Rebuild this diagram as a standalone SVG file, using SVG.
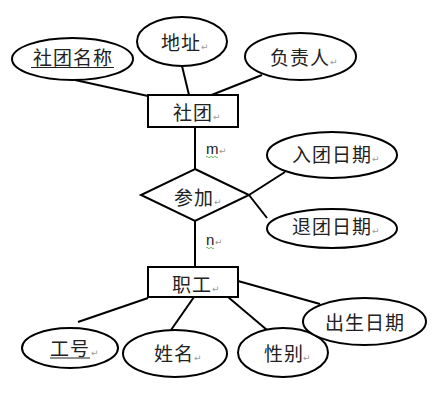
<svg xmlns="http://www.w3.org/2000/svg" width="434" height="400" viewBox="0 0 434 400">
<style>
.s{fill:#fff;stroke:#000;stroke-width:2}
.t{font-family:"Noto Sans CJK SC","Liberation Sans",sans-serif;font-size:19px;fill:#222;text-anchor:middle;letter-spacing:1px}
.p{font-family:"DejaVu Sans",sans-serif;font-size:9px;fill:#999}
.l{stroke:#000;stroke-width:2;fill:none}
.u{stroke:#222;stroke-width:1.2}
.w{stroke:#4a4;stroke-width:0.8;fill:none}
</style>
<rect width="434" height="400" fill="#fff"/>
<g id="connectors">
<line class="l" x1="75" y1="80" x2="148" y2="96"/>
<line class="l" x1="182" y1="66" x2="189" y2="95"/>
<line class="l" x1="262" y1="75" x2="209" y2="96"/>
<line class="l" x1="195" y1="127" x2="195" y2="169"/>
<line class="l" x1="195" y1="221" x2="195" y2="267"/>
<line class="l" x1="249" y1="195" x2="285" y2="172"/>
<line class="l" x1="249" y1="195" x2="267" y2="218"/>
<line class="l" x1="148" y1="298" x2="78" y2="322"/>
<line class="l" x1="194" y1="297" x2="171" y2="330"/>
<line class="l" x1="228" y1="297" x2="267" y2="330"/>
<line class="l" x1="238" y1="281" x2="320" y2="304"/>
</g>
<g id="club_name">
<ellipse class="s" cx="72.5" cy="59" rx="60.5" ry="21"/>
<text class="t" x="73" y="65">社团名称</text>
<line class="u" x1="31" y1="67.5" x2="114" y2="67.5"/>
</g>
<g id="address">
<ellipse class="s" cx="182" cy="41.5" rx="45" ry="24.5"/>
<text class="t" x="181" y="50">地址</text>
<text class="p" x="201" y="50">↵</text>
</g>
<g id="leader">
<ellipse class="s" cx="300.5" cy="56.5" rx="55.5" ry="23.5"/>
<text class="t" x="300" y="65">负责人</text>
<text class="p" x="330" y="65">↵</text>
</g>
<g id="club">
<rect class="s" x="148" y="95" width="90" height="32"/>
<text class="t" x="193" y="120">社团</text>
<text class="p" x="213" y="120">↵</text>
</g>
<g id="m_label">
<text x="206" y="154" style="font-family:'Liberation Sans',sans-serif;font-size:15px;fill:#222">m</text>
<text class="p" x="219" y="154">↵</text>
<path class="w" d="M206,157 q1,-1.5 2,0 t2,0 t2,0 t2,0 t2,0 t2,0"/>
</g>
<g id="join">
<polygon class="s" points="195,169 249,195 195,221 141,195"/>
<text class="t" x="194" y="205">参加</text>
<text class="p" x="214" y="205">↵</text>
</g>
<g id="join_date">
<ellipse class="s" cx="332" cy="155" rx="65" ry="23"/>
<text class="t" x="332" y="162">入团日期</text>
<text class="p" x="372" y="162">↵</text>
</g>
<g id="leave_date">
<ellipse class="s" cx="332" cy="228.5" rx="65" ry="19.5"/>
<text class="t" x="332" y="234">退团日期</text>
<text class="p" x="372" y="234">↵</text>
</g>
<g id="n_label">
<text x="206" y="245" style="font-family:'Liberation Sans',sans-serif;font-size:15px;fill:#222">n</text>
<text class="p" x="215" y="245">↵</text>
<path class="w" d="M206,248 q1,-1.5 2,0 t2,0 t2,0 t2,0"/>
</g>
<g id="staff">
<rect class="s" x="148" y="267" width="90" height="30"/>
<text class="t" x="192" y="292">职工</text>
<text class="p" x="212" y="292">↵</text>
</g>
<g id="staff_no">
<ellipse class="s" cx="70" cy="348" rx="48" ry="20"/>
<text class="t" x="70" y="356">工号</text>
<line class="u" x1="50" y1="358" x2="90" y2="358"/>
<text class="p" x="91" y="356">↵</text>
</g>
<g id="name">
<ellipse class="s" cx="175" cy="353.5" rx="52" ry="23.5"/>
<text class="t" x="174" y="361">姓名</text>
<text class="p" x="194" y="361">↵</text>
</g>
<g id="gender">
<ellipse class="s" cx="283" cy="352.5" rx="45" ry="24.5"/>
<text class="t" x="284" y="361">性别</text>
<text class="p" x="303" y="361">↵</text>
</g>
<g id="birth">
<ellipse class="s" cx="364.5" cy="321.5" rx="61.5" ry="23.5"/>
<text class="t" x="365" y="330">出生日期</text>
</g>
</svg>
